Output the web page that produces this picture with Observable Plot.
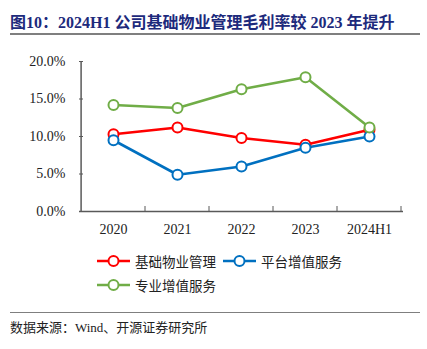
<!DOCTYPE html>
<html>
<head>
<meta charset="utf-8">
<script src="https://cdn.jsdelivr.net/npm/d3@7"></script>
<script src="https://cdn.jsdelivr.net/npm/@observablehq/plot@0.6"></script>
<style>
  body { margin: 0; background: #fff; width: 427px; height: 349px; position: relative; overflow: hidden; }
  #title { position: absolute; left: 10px; top: 9px; font: bold 16px "Liberation Serif", "Noto Sans CJK SC", serif; color: #1d2a7c; white-space: nowrap; }
  #rule1 { position: absolute; left: 10px; top: 33px; width: 410px; height: 2px; background: #7f7f7f; }
  #chart { position: absolute; left: 0; top: 40px; }
  .leg { position: absolute; display: flex; align-items: center; font: 13.5px "Noto Sans CJK SC", sans-serif; color: #222; white-space: nowrap; }
  .leg svg { margin-right: 5px; }
  #rule2 { position: absolute; left: 10px; top: 312px; width: 410px; height: 1px; background: #7f7f7f; }
  #source { position: absolute; left: 10px; top: 317px; font: 13px "Liberation Serif", "Noto Sans CJK SC", serif; color: #222; white-space: nowrap; }
</style>
</head>
<body>
<div id="title">图10：2024H1 公司基础物业管理毛利率较 2023 年提升</div>
<div id="rule1"></div>
<div id="chart"></div>
<div id="legend"></div>
<div id="rule2"></div>
<div id="source">数据来源：Wind、开源证券研究所</div>
<script>
const categories = ["2020", "2021", "2022", "2023", "2024H1"];
const seriesNames = ["基础物业管理", "平台增值服务", "专业增值服务"];
const seriesColors = ["#ff0000", "#0070c0", "#70ad47"];
const basicMgmt = [0.103, 0.112, 0.098, 0.089, 0.109];
const platformVAS = [0.095, 0.049, 0.060, 0.085, 0.100];
const professionalVAS = [0.142, 0.138, 0.163, 0.179, 0.112];
const yTicks = [0, 0.05, 0.10, 0.15, 0.20];

const valuesBySeries = [basicMgmt, platformVAS, professionalVAS];
const data = [];
[0, 1, 2].forEach(si => {
  categories.forEach((c, i) => data.push({series: seriesNames[si], cat: c, value: valuesBySeries[si][i]}));
});

const axisColor = "#595959";
const chart = Plot.plot({
  width: 427,
  height: 200,
  marginTop: 21,
  marginBottom: 29,
  marginLeft: 79,
  marginRight: 24,
  style: {fontFamily: "'Liberation Serif', serif", fontSize: "14px", color: "#222", background: "white"},
  x: {type: "band", domain: categories, padding: 0, label: null},
  y: {domain: [0, 0.2], ticks: yTicks, label: null},
  color: {domain: seriesNames, range: seriesColors},
  marks: [
    Plot.axisY({ticks: yTicks, tickFormat: d3.format(".1%"), tickSize: 0, tickPadding: 14, fill: "#222", fontSize: 14, label: null}),
    Plot.tickY(yTicks, {y: d => d, stroke: axisColor, strokeWidth: 1, insetRight: 324 - 4}),
    Plot.axisX({tickSize: 0, tickPadding: 13, fill: "#222", fontSize: 14, label: null}),
    Plot.ruleY([0], {stroke: axisColor, strokeWidth: 1.5}),
    Plot.ruleX([categories[0]], {stroke: axisColor, strokeWidth: 1.5, dx: -32.4}),
    Plot.line(data, {x: "cat", y: "value", z: "series", stroke: "series", strokeWidth: 2.6}),
    Plot.dot(data, {x: "cat", y: "value", stroke: "series", fill: "white", r: 5, strokeWidth: 2})
  ]
});
document.getElementById("chart").appendChild(chart);

// inward tick marks on x axis at band boundaries
{
  const svg = d3.select(chart);
  const xs = chart.scale("x");
  const ys = chart.scale("y");
  const y0 = ys.apply(0);
  categories.forEach(c => {
    const xr = xs.apply(c) + xs.bandwidth;
    svg.append("line").attr("x1", xr).attr("x2", xr).attr("y1", y0).attr("y2", y0 - 5)
      .attr("stroke", axisColor).attr("stroke-width", 1);
  });
}

// legend
const legendPos = [[97, 251], [223, 251], [97, 275]];
const legend = document.getElementById("legend");
seriesNames.forEach((name, i) => {
  const d = document.createElement("div");
  d.className = "leg";
  d.style.left = legendPos[i][0] + "px";
  d.style.top = legendPos[i][1] + "px";
  const col = seriesColors[i];
  d.innerHTML = `<svg width="33" height="16"><line x1="0" x2="33" y1="8" y2="8" stroke="${col}" stroke-width="2.6"/><circle cx="16.5" cy="8" r="5" fill="white" stroke="${col}" stroke-width="2"/></svg><span>${name}</span>`;
  legend.appendChild(d);
});
</script>
</body>
</html>
